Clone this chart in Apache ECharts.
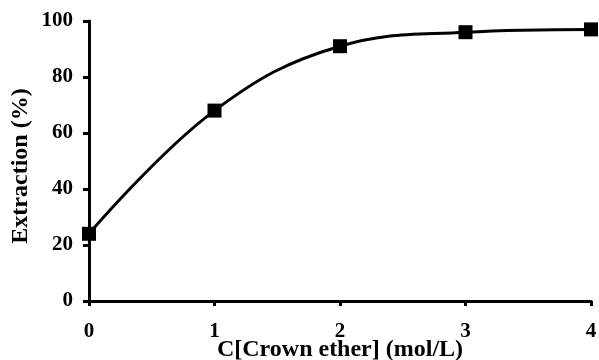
<!DOCTYPE html>
<html><head><meta charset="utf-8">
<script src="https://cdn.jsdelivr.net/npm/echarts@6/dist/echarts.min.js"></script>
<style>html,body{margin:0;padding:0;background:#fff}#c{width:599px;height:360px}</style>
</head><body><div id="c"></div>
<script>
const xValues = [0, 1, 2, 3, 4];
const extraction = [24, 68, 91, 96, 97];
const xTitle = 'C[Crown ether] (mol/L)';
const yTitle = 'Extraction (%)';

const font = '"Liberation Serif", "Times New Roman", serif';
const chart = echarts.init(document.getElementById('c'));
chart.setOption({
  animation: false,
  backgroundColor: '#fff',
  grid: { left: 89, right: 8, top: 21, bottom: 59, containLabel: false, outerBoundsMode: 'none' },
  xAxis: {
    type: 'value', min: 0, max: 4, interval: 1,
    name: xTitle, nameLocation: 'middle', nameGap: 37, nameMoveOverlap: false,
    nameTextStyle: { fontFamily: font, fontWeight: 'bold', fontSize: 24, color: '#000' },
    axisLine: { lineStyle: { color: '#000', width: 3 } },
    axisTick: { show: true, length: 5, lineStyle: { color: '#000', width: 3 } },
    axisLabel: { fontFamily: font, fontWeight: 'bold', fontSize: 21, color: '#000', margin: 20 },
    splitLine: { show: false }
  },
  yAxis: {
    type: 'value', min: 0, max: 100, interval: 20,
    name: yTitle, nameLocation: 'middle', nameGap: 56, nameRotate: 90, nameMoveOverlap: false,
    nameTextStyle: { fontFamily: font, fontWeight: 'bold', fontSize: 24, color: '#000', padding: [0, 10, 0, 0] },
    axisLine: { show: true, lineStyle: { color: '#000', width: 3 } },
    axisTick: { show: true, length: 6, lineStyle: { color: '#000', width: 3 } },
    axisLabel: { fontFamily: font, fontWeight: 'bold', fontSize: 21, color: '#000', margin: 16 },
    splitLine: { show: false }
  },
  series: [{
    type: 'line',
    data: xValues.map((x, i) => [x, extraction[i]]),
    smooth: 0.4,
    symbol: 'rect', symbolSize: 14,
    itemStyle: { color: '#000' },
    lineStyle: { color: '#000', width: 3 },
    clip: false
  }]
});
</script></body></html>
